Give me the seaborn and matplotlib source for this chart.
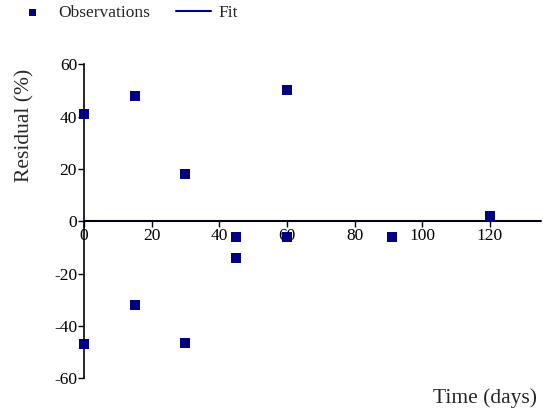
import pandas as pd
import seaborn as sns
import matplotlib.pyplot as plt

# residual data
time_days = [0, 0, 15, 15, 30, 30, 45, 45, 60, 60, 91, 120]
residual_pct = [41, -47, 48, -32, 18, -46.5, -6, -14, 50, -6, -6, 2]
fit_time = [0, 135]
fit_resid = [0, 0]

x_ticks = [0, 20, 40, 60, 80, 100, 120]
y_ticks = [-60, -40, -20, 0, 20, 40, 60]


def main():
    sns.set_style("white")
    plt.rcParams["font.family"] = ["Liberation Serif", "DejaVu Serif"]
    plt.rcParams["axes.unicode_minus"] = False

    obs = pd.DataFrame({"t": time_days, "r": residual_pct})
    fit = pd.DataFrame({"t": fit_time, "r": fit_resid})

    fig = plt.figure(figsize=(5.43, 4.15), dpi=100)
    ax = fig.add_axes([0.1547, 0.0884, 0.841, 0.7566])

    sns.lineplot(data=fit, x="t", y="r", ax=ax, color="#000080", lw=1.5,
                 zorder=1, label="Fit")
    sns.scatterplot(data=obs, x="t", y="r", ax=ax, marker="s", s=52,
                    color="#000080", edgecolor="none", zorder=3,
                    clip_on=False, label="Observations")

    ax.set_xlim(0, 135)
    ax.set_ylim(-60, 60)
    ax.set_xticks(x_ticks)
    ax.set_yticks(y_ticks)
    ax.set_xlabel("")
    ax.set_ylabel("")

    ax.spines["left"].set_position(("data", 0))
    ax.spines["bottom"].set_position(("data", 0))
    ax.spines["right"].set_visible(False)
    ax.spines["top"].set_visible(False)
    for s in ("left", "bottom"):
        ax.spines[s].set_color("black")
        ax.spines[s].set_linewidth(1.2)
    ax.tick_params(axis="both", direction="out", length=4, width=1,
                   labelsize=12.5, colors="black", bottom=True, left=True)
    ax.tick_params(axis="x", pad=1)
    ax.tick_params(axis="y", pad=1)

    handles, labels = ax.get_legend_handles_labels()
    order = [labels.index("Observations"), labels.index("Fit")]
    ax.legend([handles[i] for i in order], [labels[i] for i in order],
              ncol=2, frameon=False, fontsize=12.5, loc="upper left",
              bbox_to_anchor=(0.0, 1.025), bbox_transform=fig.transFigure,
              handlelength=2.0, handletextpad=0.45, columnspacing=1.5,
              markerscale=0.7)

    fig.text(25 / 543, 1 - 125 / 415, "Residual (%)", rotation=90,
             ha="center", va="center", fontsize=15.5)
    fig.text(537 / 543, 1 - 398 / 415, "Time (days)", ha="right",
             va="center", fontsize=15.5)

    fig.savefig("out.png", dpi=100)


if __name__ == "__main__":
    main()
